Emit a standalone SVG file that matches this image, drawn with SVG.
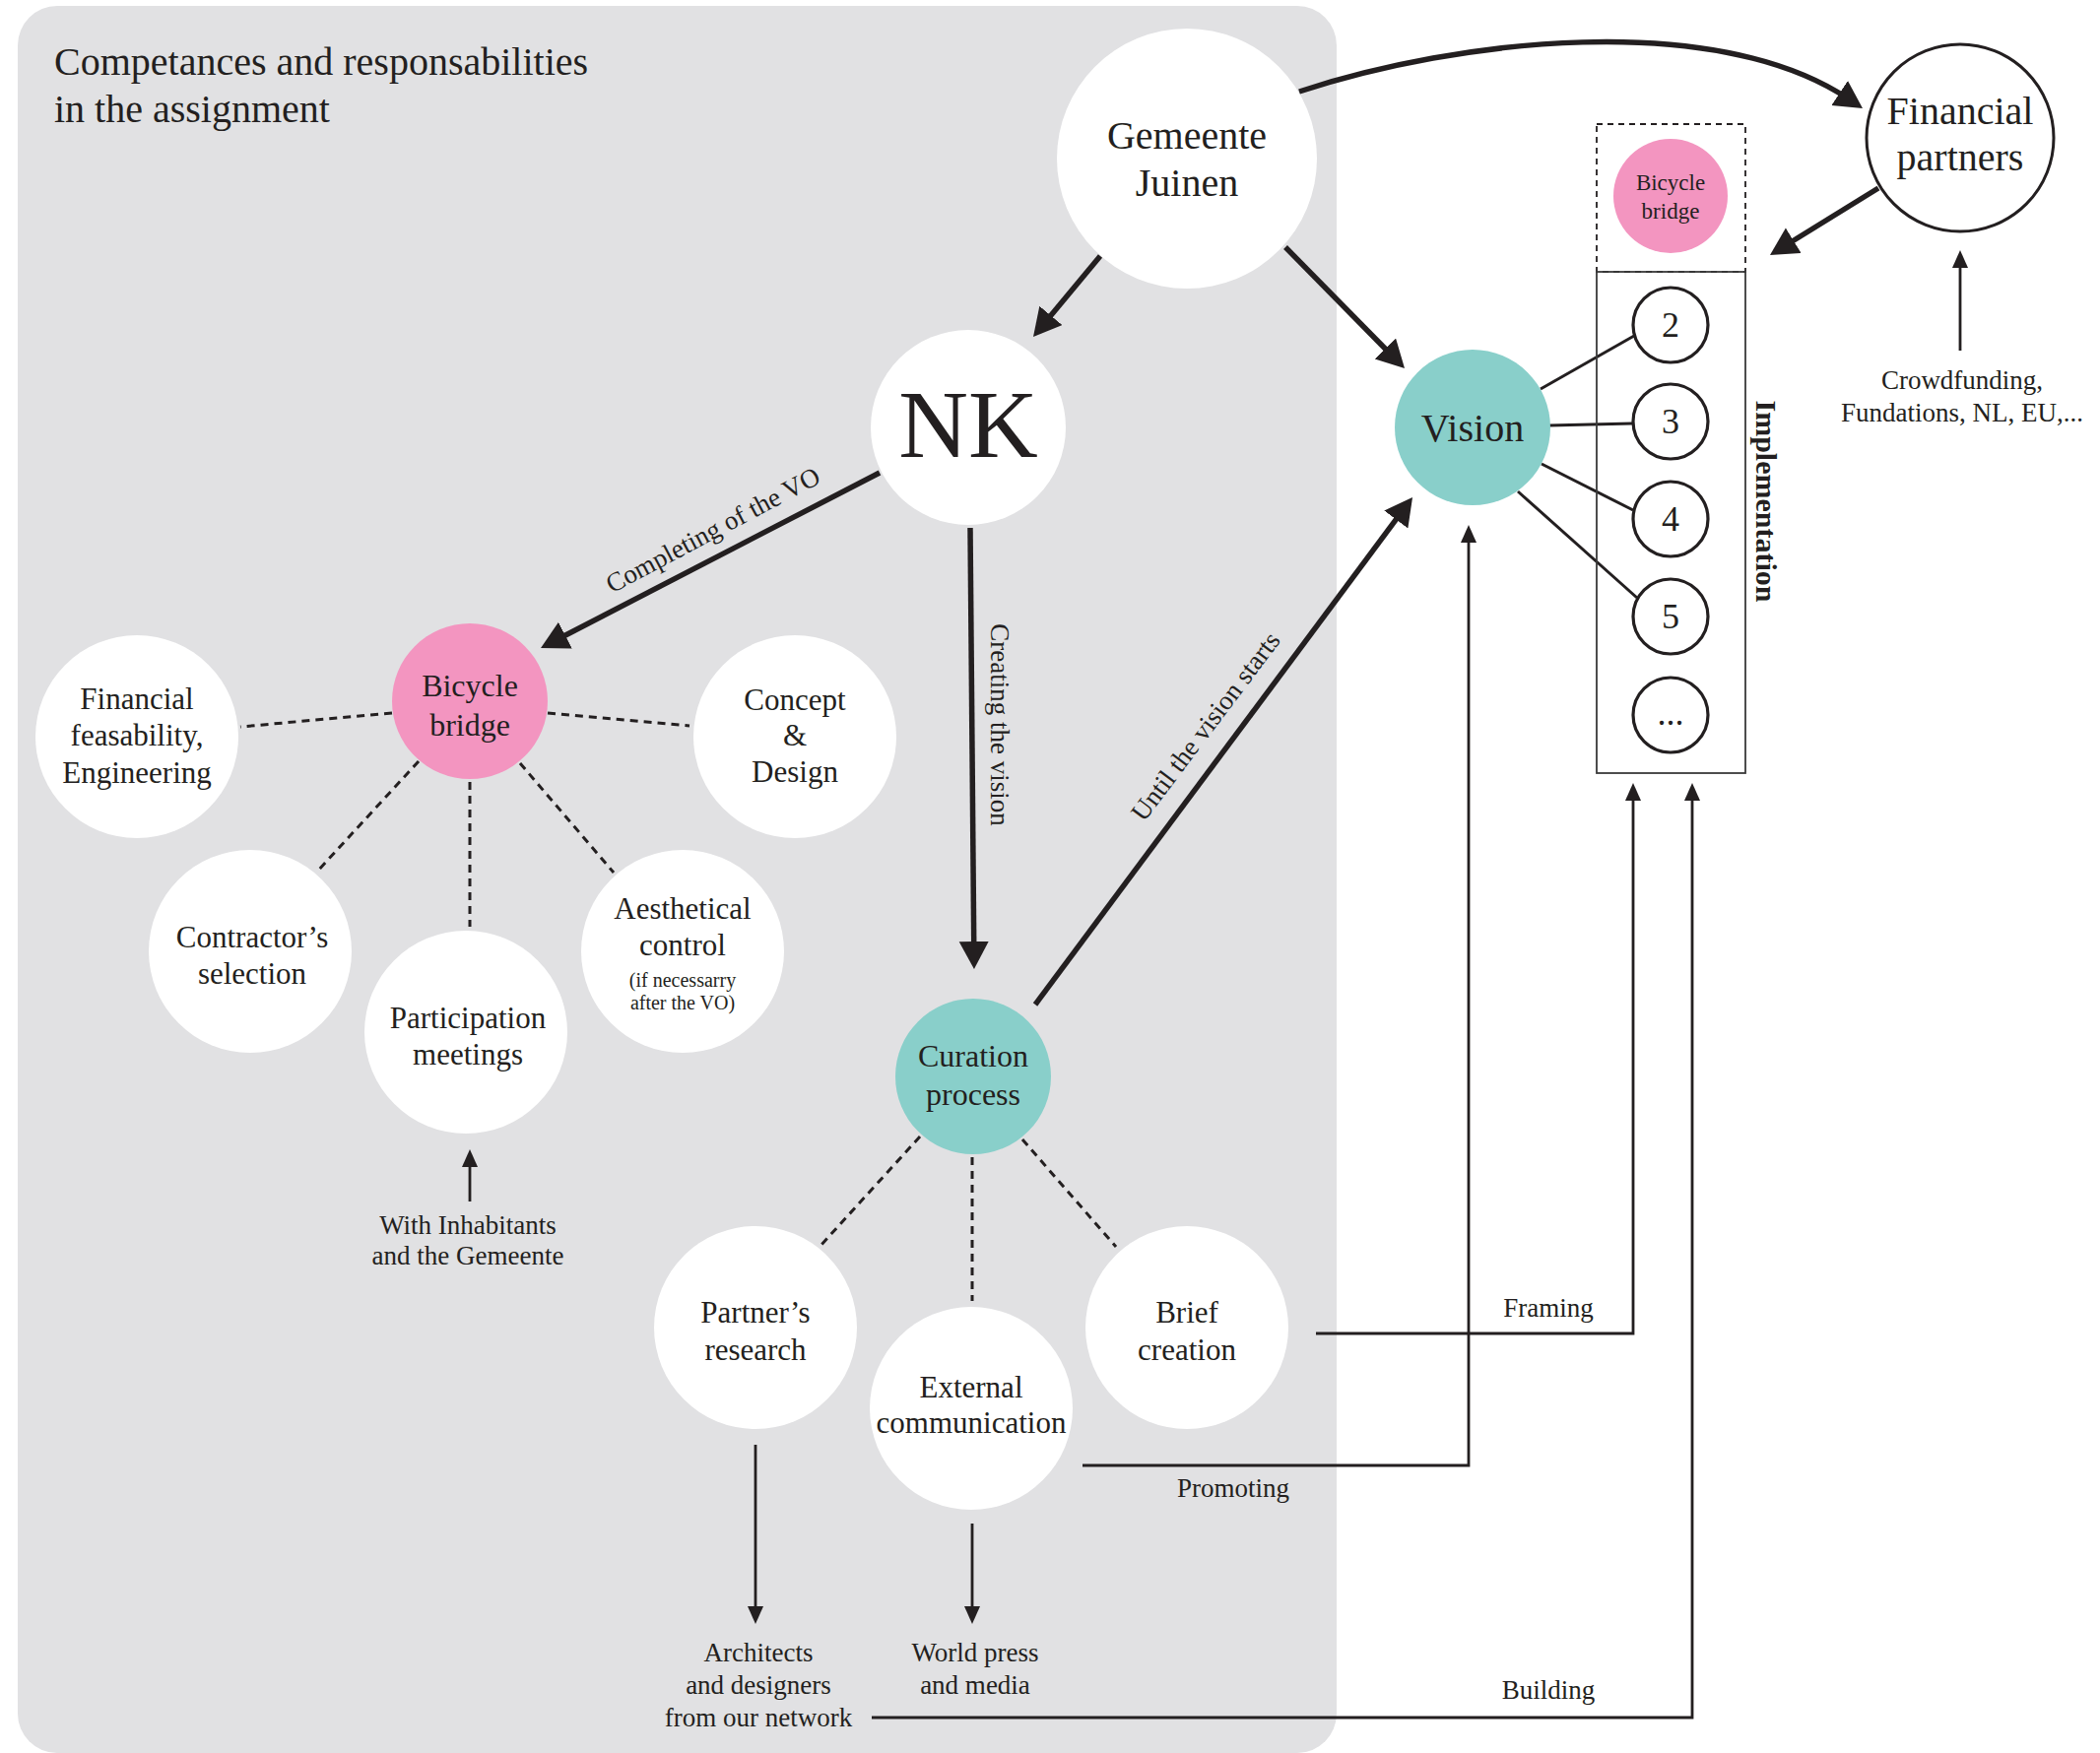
<svg xmlns="http://www.w3.org/2000/svg" width="2132" height="1780" viewBox="0 0 2132 1780">
<defs>
<style>
text{font-family:"Liberation Serif","Times New Roman",serif;fill:#231f20;text-anchor:middle}
.l{text-anchor:start}
.t40{font-size:40px}
.t32{font-size:32px}
.t31{font-size:31px}
.t27{font-size:27px}
.t20{font-size:20px}
.num{font-size:36px}
.wc{fill:#fff}
.teal{fill:#89cfca}
.pink{fill:#f395c0}
.ring{fill:#fff;stroke:#231f20;stroke-width:3.2}
.thick{stroke:#231f20;stroke-width:5.5;fill:none}
.thin{stroke:#231f20;stroke-width:2.8;fill:none}
.vl{stroke:#231f20;stroke-width:3;fill:none}
.dot{stroke:#231f20;stroke-width:3;stroke-dasharray:8 6;fill:none}
.box{stroke:#3a3a3a;stroke-width:1.8;fill:none}
.dbox{stroke:#231f20;stroke-width:1.8;stroke-dasharray:6 5;fill:none}
</style>
<marker id="ah" markerUnits="userSpaceOnUse" markerWidth="30" markerHeight="32" refX="10" refY="15" orient="auto"><path d="M0,0 L28,15 L0,30 z" fill="#231f20"/></marker>
<marker id="as" markerUnits="userSpaceOnUse" markerWidth="20" markerHeight="18" refX="8" refY="8" orient="auto"><path d="M0,0 L18,8 L0,16 z" fill="#231f20"/></marker>
</defs>

<rect x="18" y="6" width="1339" height="1774" rx="40" ry="40" fill="#e1e1e3"/>

<text class="l t40" x="55" y="76">Competances and responsabilities</text>
<text class="l t40" x="55" y="124">in the assignment</text>

<g id="connectors">
<path class="thick" d="M1319,93 C1480,40 1740,10 1876,100" marker-end="url(#ah)"/>
<line class="thick" x1="1117" y1="260" x2="1060.5" y2="328.1" marker-end="url(#ah)"/>
<line class="thick" x1="1305" y1="251" x2="1413.4" y2="361.2" marker-end="url(#ah)"/>
<line class="thick" x1="893" y1="480" x2="565" y2="649.7" marker-end="url(#ah)"/>
<line class="thick" x1="985" y1="536" x2="988.8" y2="966" marker-end="url(#ah)"/>
<line class="thick" x1="1051" y1="1020" x2="1423.3" y2="519.4" marker-end="url(#ah)"/>
<line class="thick" x1="1907" y1="191" x2="1812.3" y2="249.5" marker-end="url(#ah)"/>

<line class="vl" x1="1564" y1="395" x2="1659" y2="341"/>
<line class="vl" x1="1573" y1="432" x2="1657" y2="430"/>
<line class="vl" x1="1565" y1="471" x2="1658" y2="518"/>
<line class="vl" x1="1541" y1="499" x2="1662" y2="607"/>

<line class="dot" x1="398" y1="724" x2="244" y2="738"/>
<line class="dot" x1="556" y1="724" x2="700" y2="737"/>
<line class="dot" x1="425" y1="773" x2="321" y2="886"/>
<line class="dot" x1="477" y1="794" x2="477" y2="941"/>
<line class="dot" x1="528" y1="775" x2="623" y2="886"/>

<line class="dot" x1="934" y1="1154" x2="832" y2="1266"/>
<line class="dot" x1="987" y1="1175" x2="987" y2="1321"/>
<line class="dot" x1="1038" y1="1157" x2="1133" y2="1266"/>

<line class="thin" x1="477" y1="1220" x2="477" y2="1177" marker-end="url(#as)"/>
<line class="thin" x1="1990" y1="356" x2="1990" y2="264" marker-end="url(#as)"/>
<line class="thin" x1="767" y1="1467" x2="767" y2="1639" marker-end="url(#as)"/>
<line class="thin" x1="987" y1="1547" x2="987" y2="1639" marker-end="url(#as)"/>
<path class="thin" d="M1336,1354 H1658 V805" marker-end="url(#as)"/>
<path class="thin" d="M1099,1488 H1491 V543" marker-end="url(#as)"/>
<path class="thin" d="M885,1744 H1718 V805" marker-end="url(#as)"/>

<text class="t27" transform="translate(728,546) rotate(-27.97)">Completing of the VO</text>
<text class="t27" transform="translate(1231,743) rotate(-53)">Until the vision starts</text>
<text class="t27" transform="translate(1006,736) rotate(90)">Creating the vision</text>
<text class="t27" x="1572" y="1337">Framing</text>
<text class="t27" x="1252" y="1520">Promoting</text>
<text class="t27" x="1572" y="1725">Building</text>
</g>

<g id="gemeente">
<circle class="wc" cx="1205" cy="161" r="132"/>
<text class="t40" x="1205" y="151">Gemeente</text>
<text class="t40" x="1205" y="199">Juinen</text>
</g>

<g id="nk">
<circle class="wc" cx="983" cy="434" r="99"/>
<text x="983" y="464" style="font-size:98px">NK</text>
</g>

<g id="vision">
<circle class="teal" cx="1495" cy="434" r="79"/>
<text class="t40" x="1495" y="448">Vision</text>
</g>

<g id="financial-partners">
<circle cx="1990" cy="140" r="95" fill="#fff" stroke="#231f20" stroke-width="3"/>
<text class="t40" x="1990" y="126">Financial</text>
<text class="t40" x="1990" y="173">partners</text>
</g>

<g id="crowdfunding">
<text class="t27" x="1992" y="395">Crowdfunding,</text>
<text class="t27" x="1992" y="428">Fundations, NL, EU,...</text>
</g>

<g id="implementation">
<rect class="dbox" x="1621" y="126" width="151" height="150"/>
<rect class="box" x="1621" y="276" width="151" height="509"/>
<circle class="pink" cx="1696" cy="199" r="58"/>
<text x="1696" y="193" style="font-size:23px">Bicycle</text>
<text x="1696" y="222" style="font-size:23px">bridge</text>
<text transform="translate(1783,509) rotate(90)" style="font-size:30px;font-weight:bold">Implementation</text>
</g>

<g id="step-2"><circle class="ring" cx="1696" cy="330" r="38"/><text class="num" x="1696" y="342">2</text></g>
<g id="step-3"><circle class="ring" cx="1696" cy="428" r="38"/><text class="num" x="1696" y="440">3</text></g>
<g id="step-4"><circle class="ring" cx="1696" cy="527" r="38"/><text class="num" x="1696" y="539">4</text></g>
<g id="step-5"><circle class="ring" cx="1696" cy="626" r="38"/><text class="num" x="1696" y="638">5</text></g>
<g id="step-more"><circle class="ring" cx="1696" cy="726" r="38"/><text class="num" x="1696" y="736">...</text></g>

<g id="bicycle-bridge">
<circle class="pink" cx="477" cy="712" r="79"/>
<text class="t32" x="477" y="707">Bicycle</text>
<text class="t32" x="477" y="747">bridge</text>
</g>

<g id="financial-feasability">
<circle class="wc" cx="139" cy="748" r="103"/>
<text class="t31" x="139" y="720">Financial</text>
<text class="t31" x="139" y="757">feasability,</text>
<text class="t31" x="139" y="795">Engineering</text>
</g>

<g id="concept-design">
<circle class="wc" cx="807" cy="748" r="103"/>
<text class="t31" x="807" y="721">Concept</text>
<text class="t31" x="807" y="757">&amp;</text>
<text class="t31" x="807" y="794">Design</text>
</g>

<g id="contractor">
<circle class="wc" cx="254" cy="966" r="103"/>
<text class="t31" x="256" y="962">Contractor’s</text>
<text class="t31" x="256" y="999">selection</text>
</g>

<g id="participation">
<circle class="wc" cx="473" cy="1048" r="103"/>
<text class="t31" x="475" y="1044">Participation</text>
<text class="t31" x="475" y="1081">meetings</text>
</g>

<g id="aesthetical">
<circle class="wc" cx="693" cy="966" r="103"/>
<text class="t31" x="693" y="933">Aesthetical</text>
<text class="t31" x="693" y="970">control</text>
<text class="t20" x="693" y="1002">(if necessarry</text>
<text class="t20" x="693" y="1025">after the VO)</text>
</g>

<g id="inhabitants">
<text class="t27" x="475" y="1253">With Inhabitants</text>
<text class="t27" x="475" y="1284">and the Gemeente</text>
</g>

<g id="curation">
<circle class="teal" cx="988" cy="1093" r="79"/>
<text class="t32" x="988" y="1083">Curation</text>
<text class="t32" x="988" y="1122">process</text>
</g>

<g id="partners-research">
<circle class="wc" cx="767" cy="1348" r="103"/>
<text class="t31" x="767" y="1343">Partner’s</text>
<text class="t31" x="767" y="1381">research</text>
</g>

<g id="external-communication">
<circle class="wc" cx="986" cy="1430" r="103"/>
<text class="t31" x="986" y="1419">External</text>
<text class="t31" x="986" y="1455">communication</text>
</g>

<g id="brief-creation">
<circle class="wc" cx="1205" cy="1348" r="103"/>
<text class="t31" x="1205" y="1343">Brief</text>
<text class="t31" x="1205" y="1381">creation</text>
</g>

<g id="architects">
<text class="t27" x="770" y="1687">Architects</text>
<text class="t27" x="770" y="1720">and designers</text>
<text class="t27" x="770" y="1753">from our network</text>
</g>

<g id="world-press">
<text class="t27" x="990" y="1687">World press</text>
<text class="t27" x="990" y="1720">and media</text>
</g>
</svg>
